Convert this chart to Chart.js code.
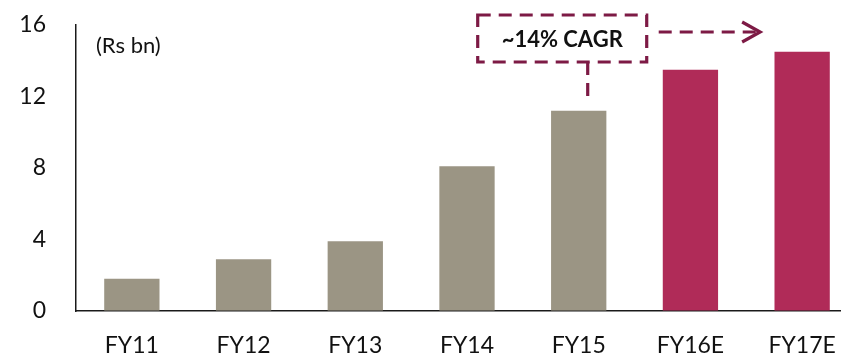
<!DOCTYPE html>
<html>
<head>
<meta charset="utf-8">
<script src="https://cdn.jsdelivr.net/npm/chart.js@4/dist/chart.umd.min.js"></script>
<style>
  html, body { margin: 0; padding: 0; background: #fff; overflow: hidden; }
  #wrap { position: relative; width: 858px; height: 355px; }
</style>
</head>
<body>
<div id="wrap"><canvas id="c" width="858" height="355"></canvas></div>
<script>
const categories = ['FY11', 'FY12', 'FY13', 'FY14', 'FY15', 'FY16E', 'FY17E'];
const values = [1.8, 2.9, 3.9, 8.1, 11.2, 13.5, 14.5];
const yTicks = [0, 4, 8, 12, 16];
const unitLabel = '(Rs bn)';
const cagrLabel = '~14% CAGR';

const ACTUAL = '#9b9584';
const ESTIMATE = '#b02b58';
const MAROON = '#7d1a45';
const FONT = 'Lato, "Open Sans", sans-serif';

const annotationPlugin = {
  id: 'cagr',
  afterDatasetsDraw(chart) {
    const ctx = chart.ctx;
    const x = chart.scales.x, y = chart.scales.y;
    const area = chart.chartArea;
    ctx.save();
    // unit label
    ctx.fillStyle = '#111';
    ctx.font = '22px ' + FONT;
    ctx.textAlign = 'left';
    ctx.textBaseline = 'middle';
    ctx.fillText(unitLabel, area.left + 20, area.top + 21);

    // CAGR box
    const fy15 = x.getPixelForValue(4);
    const fy17 = x.getPixelForValue(6);
    const boxL = fy15 - 101, boxR = fy15 + 68;
    const boxT = area.top - 10, boxB = area.top + 37;
    ctx.strokeStyle = MAROON;
    ctx.lineWidth = 3.2;
    ctx.setLineDash([13, 8]);
    ctx.beginPath();
    ctx.rect(boxL, boxT, boxR - boxL, boxB - boxT);
    ctx.stroke();
    // connector to FY15
    const cx = fy15 + 9;
    ctx.beginPath();
    ctx.moveTo(cx, boxB);
    ctx.lineTo(cx, y.getPixelForValue(values[4]) - 9);
    ctx.stroke();
    // arrow
    const ay = area.top + 7;
    const ax2 = fy17 - 42;
    ctx.beginPath();
    ctx.moveTo(boxR + 12, ay);
    ctx.lineTo(ax2 - 4, ay);
    ctx.stroke();
    ctx.setLineDash([]);
    ctx.beginPath();
    ctx.moveTo(ax2 - 18, ay - 10);
    ctx.lineTo(ax2, ay);
    ctx.lineTo(ax2 - 18, ay + 10);
    ctx.stroke();
    // text
    ctx.fillStyle = '#111';
    ctx.font = 'bold 22px ' + FONT;
    ctx.textAlign = 'center';
    ctx.fillText(cagrLabel, (boxL + boxR) / 2, (boxT + boxB) / 2 + 1);
    ctx.restore();
  }
};

new Chart(document.getElementById('c'), {
  type: 'bar',
  data: {
    labels: categories,
    datasets: [{
      data: values,
      backgroundColor: categories.map(c => c.endsWith('E') ? ESTIMATE : ACTUAL),
      borderWidth: 0,
      barPercentage: 0.495,
      categoryPercentage: 1
    }]
  },
  options: {
    responsive: false,
    animation: false,
    layout: { padding: { top: 25, right: 0, left: 0, bottom: 0 } },
    plugins: { legend: { display: false }, tooltip: { enabled: false } },
    scales: {
      x: {
        grid: { display: true, drawOnChartArea: false, drawTicks: true, tickLength: 21, tickColor: 'rgba(0,0,0,0)' },
        border: { display: true, color: '#1a1a1a', width: 1.5 },
        ticks: { color: '#111', font: { family: FONT, size: 23 }, padding: 0, maxRotation: 0 },
        afterFit(s) { s.height = 44; }
      },
      y: {
        min: 0, max: 16,
        afterBuildTicks(s) { s.ticks = yTicks.map(v => ({ value: v })); },
        grid: { display: true, drawOnChartArea: false, drawTicks: true, tickLength: 30, tickColor: 'rgba(0,0,0,0)' },
        border: { display: true, color: '#1a1a1a', width: 1.5 },
        ticks: { color: '#111', font: { family: FONT, size: 23 }, padding: 0 },
        afterFit(s) { s.width = 76; }
      }
    }
  },
  plugins: [annotationPlugin]
});
</script>
</body>
</html>
